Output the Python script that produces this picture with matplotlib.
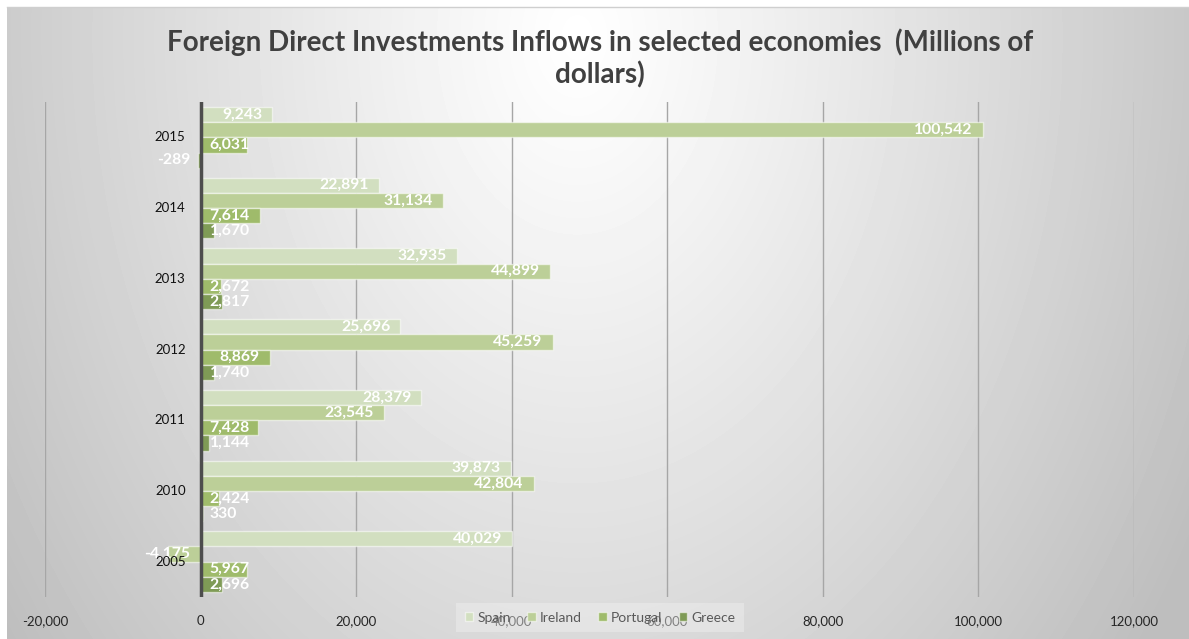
import numpy as np
import matplotlib
matplotlib.use("Agg")
import matplotlib.pyplot as plt
from matplotlib.lines import Line2D

plt.rcParams['font.family'] = ['Lato', 'DejaVu Sans']

# FDI inflows, millions of dollars
years = ['2005', '2010', '2011', '2012', '2013', '2014', '2015']
spain = [40029, 39873, 28379, 25696, 32935, 22891, 9243]
ireland = [-4175, 42804, 23545, 45259, 44899, 31134, 100542]
portugal = [5967, 2424, 7428, 8869, 2672, 7614, 6031]
greece = [2696, 330, 1144, 1740, 2817, 1670, -289]

series = [('Spain', spain, '#d2dfc0'),
          ('Ireland', ireland, '#bccf98'),
          ('Portugal', portugal, '#9fbb6b'),
          ('Greece', greece, '#7f9b56')]

W, H = 1189, 639
fig = plt.figure(figsize=(W / 100, H / 100), dpi=100)
fig.patch.set_facecolor('white')

# grey radial backdrop, lightest near the title
bw, bh = W - 7, H - 7
xx, yy = np.meshgrid(np.arange(bw), np.arange(bh))
d = np.sqrt(((xx - 570) / 620.0) ** 2 + ((yy - 30) / 870.0) ** 2)
shade = 1.0 - 0.22 * np.clip(d, 0, 1.15) ** 1.1
bg = fig.add_axes([7 / W, 0, bw / W, bh / H], zorder=-5)
bg.imshow(shade, cmap='gray', vmin=0, vmax=1, aspect='auto',
          interpolation='bilinear')
bg.axis('off')
fig.add_artist(Line2D([7 / W, 1], [1 - 7 / H, 1 - 7 / H],
                      transform=fig.transFigure, color='#cfcfcf', lw=1))

ax = fig.add_axes([45 / W, 1 - 597 / H, (1134 - 45) / W, (597 - 102) / H])
ax.set_facecolor('none')

y = np.arange(len(years))
h = 0.215
offsets = [1.5 * h, 0.5 * h, -0.5 * h, -1.5 * h]

bars = []
for (name, vals, col), off in zip(series, offsets):
    ax.barh(y + off, vals, height=h, color=col, label=name,
            edgecolor=(1, 1, 1, 0.55), linewidth=1, zorder=3)
    bars.append((vals, y + off))

ax.set_xlim(-20000, 120000)
ax.set_ylim(-0.5, len(years) - 0.5)
ax.set_xticks(np.arange(-20000, 120001, 20000))
ax.set_xticklabels([f'{v:,}' for v in range(-20000, 120001, 20000)])
ax.tick_params(axis='x', length=0, pad=13, labelsize=9.5, labelcolor='#262626')
ax.set_yticks([])
for s in ax.spines.values():
    s.set_visible(False)
ax.grid(axis='x', color='#a6a6a6', lw=1, zorder=0)
ax.axvline(0, color='#4d4d4d', lw=2.5, zorder=4)

# year labels sit left of the zero line
for yi, lab in zip(y, years):
    ax.annotate(lab, (0, yi), xytext=(-15, 0), textcoords='offset pixels',
                ha='right', va='center', fontsize=9.5, color='#111111', zorder=8)

# value labels: inside end, kept clear of the zero line
texts = []
for vals, ypos in bars:
    for v, yp in zip(vals, ypos):
        t = ax.text(v, yp, f'{v:,}', ha='left', va='center', fontsize=11.3,
                    fontweight='bold', color='white', zorder=6)
        texts.append((t, v, yp))

fig.canvas.draw()
renderer = fig.canvas.get_renderer()
x0 = ax.transData.transform((0, 0))[0]
inv = ax.transData.inverted()
for t, v, yp in texts:
    w = t.get_window_extent(renderer).width
    end = ax.transData.transform((v, yp))[0]
    if v >= 0:
        left = max(end - 10 - w, x0 + 9)
    else:
        left = x0 - 10 - w
    t.set_x(inv.transform((left, 0))[0])

leg = ax.legend(loc='center', bbox_to_anchor=(600 / W, 1 - 617.5 / H),
                bbox_transform=fig.transFigure, ncol=4, fontsize=10,
                handlelength=0.6, handleheight=0.6, handletextpad=0.3,
                columnspacing=1.2, borderpad=0.6, frameon=True, fancybox=False)
leg.get_frame().set_facecolor('#f0f0f0')
leg.get_frame().set_alpha(0.45)
leg.get_frame().set_edgecolor('none')
for txt in leg.get_texts():
    txt.set_color('#595959')
leg.set_zorder(9)

fig.text(600 / W, 1 - 42 / H,
         'Foreign Direct Investments Inflows in selected economies  (Millions of',
         ha='center', va='center', fontsize=20, fontweight='bold', color='#404040')
fig.text(600 / W, 1 - 75 / H, 'dollars)', ha='center', va='center',
         fontsize=20, fontweight='bold', color='#404040')

fig.savefig('out.png', dpi=100)
